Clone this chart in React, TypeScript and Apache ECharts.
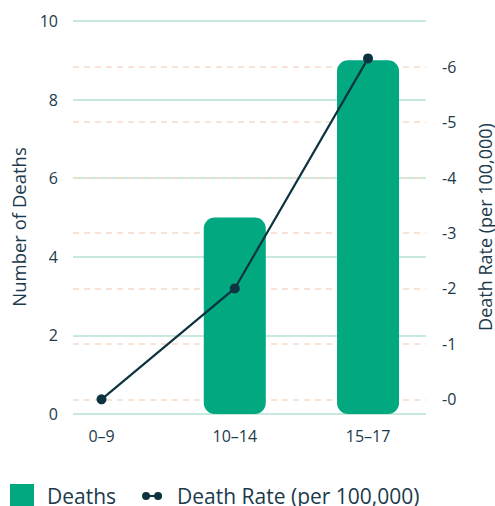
import React, { useEffect, useRef } from "react";
import * as echarts from "echarts";

// Age groups, death counts and death rates per 100,000
const ageGroups = ["0–9", "10–14", "15–17"];
const deaths = [0, 5, 9];
const deathRates = [0, 2, 6.15];
const deathTicks = [0, 2, 4, 6, 8, 10];
const rateTicks = [0, 1, 2, 3, 4, 5, 6];

const TEXT = "#1b3a4b";
const FONT = "Open Sans";

// two dots joined by a short bar; the extra moveTo points pad the icon box
const dotsIcon =
  "path://M-2,-8 M22,16 M0,4 A4,4 0 1 1 8,4 A4,4 0 1 1 0,4 Z M12,4 A4,4 0 1 1 20,4 A4,4 0 1 1 12,4 Z M6,3 L14,3 L14,5 L6,5 Z";

export default function App() {
  const ref = useRef<HTMLDivElement>(null);

  useEffect(() => {
    if (!ref.current) return;
    const chart = echarts.init(ref.current, null, { renderer: "svg" });
    chart.setOption({
      animation: false,
      backgroundColor: "#ffffff",
      textStyle: { fontFamily: FONT },
      grid: { left: 73, right: 69, top: 21, bottom: 92, containLabel: false },
      legend: {
        left: 10,
        top: 484,
        padding: 0,
        itemWidth: 24,
        itemHeight: 24,
        itemGap: 24,
        textStyle: { fontFamily: FONT, fontSize: 21, color: TEXT, padding: [0, 0, 0, 8] },
        data: [
          { name: "Deaths", icon: "rect" },
          { name: "Death Rate (per 100,000)", icon: dotsIcon },
        ],
      },
      xAxis: {
        type: "value",
        min: -0.214,
        max: 2.435,
        axisLine: { show: false },
        axisTick: { show: false },
        splitLine: { show: false },
        axisLabel: {
          customValues: ageGroups.map((_, i) => i),
          formatter: (v: number) => ageGroups[Math.round(v)] ?? "",
          color: TEXT,
          fontFamily: FONT,
          fontSize: 16,
          margin: 14,
        },
      },
      yAxis: [
        {
          type: "value",
          min: 0,
          max: 10,
          interval: 2,
          axisLine: { show: false },
          axisTick: { show: false },
          axisLabel: {
            customValues: deathTicks,
            color: TEXT,
            fontFamily: FONT,
            fontSize: 16,
            margin: 15,
          },
          splitLine: { lineStyle: { color: "#b6e2d2", width: 1.5 } },
        },
        {
          type: "value",
          position: "right",
          min: -0.265,
          max: 6.825,
          axisLine: { show: false },
          axisTick: { show: false, customValues: rateTicks },
          axisLabel: {
            customValues: rateTicks,
            formatter: (v: number) => "-" + v,
            color: TEXT,
            fontFamily: FONT,
            fontSize: 16,
            margin: 16,
          },
          splitLine: {
            show: true,
            lineStyle: { color: "#f6dcc9", width: 1.5, type: [6, 5] },
          },
        },
      ],
      graphic: [
        {
          type: "text",
          x: 18,
          y: 227,
          rotation: Math.PI / 2,
          style: {
            text: "Number of Deaths",
            fill: TEXT,
            font: `18.5px "${FONT}"`,
            align: "center",
            verticalAlign: "middle",
          },
        },
        {
          type: "text",
          x: 485,
          y: 227,
          rotation: Math.PI / 2,
          style: {
            text: "Death Rate (per 100,000)",
            fill: TEXT,
            font: `18px "${FONT}"`,
            align: "center",
            verticalAlign: "middle",
          },
        },
      ],
      series: [
        {
          name: "Deaths",
          type: "bar",
          yAxisIndex: 0,
          barWidth: 62,
          data: deaths.map((v, i) => [i, v]),
          itemStyle: { color: "#02a880", borderRadius: 11 },
        },
        {
          name: "Death Rate (per 100,000)",
          type: "line",
          yAxisIndex: 1,
          data: deathRates.map((v, i) => [i, v]),
          symbol: "circle",
          symbolSize: 10,
          lineStyle: { color: "#0d3340", width: 2.2 },
          itemStyle: { color: "#0d3340" },
          z: 5,
        },
      ],
    });
    return () => chart.dispose();
  }, []);

  return (
    <div
      ref={ref}
      style={{ position: "fixed", left: 0, top: 0, width: 495, height: 506 }}
    />
  );
}
